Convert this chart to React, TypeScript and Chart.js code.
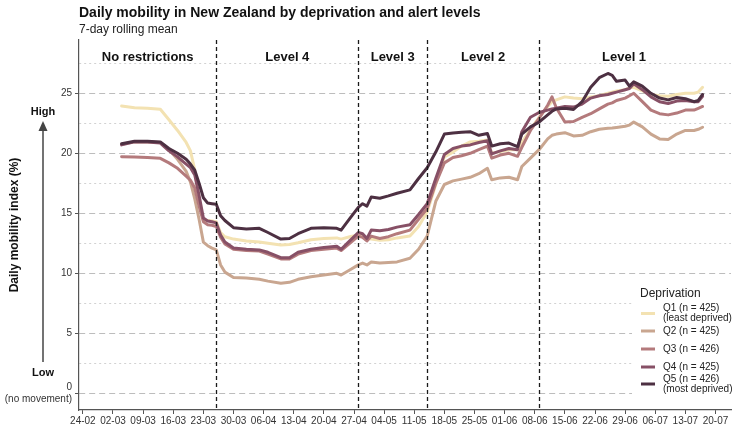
import { useEffect, useRef } from "react";
import { Chart, registerables } from "chart.js";

Chart.register(...registerables);

const FONT = '"Liberation Sans", Arial, Helvetica, sans-serif';

// Days since 24 February 2020
const days = [9, 12, 15, 18, 20, 22, 24, 25, 26, 27, 28, 29, 30, 31, 32, 33, 35, 38, 41, 43, 46, 48, 50, 53, 56, 59, 60, 62, 64, 65, 66, 67, 69, 71, 73, 76, 78, 80, 82, 84, 86, 88, 90, 92, 94, 95, 97, 99, 101, 102, 104, 106, 108, 109, 110, 112, 114, 116, 118, 120, 122, 123, 124, 126, 127, 128, 130, 132, 134, 136, 138, 140, 142, 143, 144];

const q1 = [23.94, 23.8, 23.75, 23.67, 22.8, 21.9, 20.9, 20.2, 18.6, 16.0,
  14.4, 14.4, 14.35, 14.3, 13.4, 13.05, 12.85, 12.7, 12.6, 12.5,
  12.35, 12.4, 12.55, 12.8, 12.9, 12.95, 12.85, 13.05, 13.2, 13.1,
  12.9, 12.85, 12.75, 12.8, 12.95, 13.1, 13.9, 15.1, 17.4, 19.7,
  20.1, 20.6, 20.95, 21.0, 21.1, 20.0, 20.15, 20.3, 20.3, 20.9,
  22.0, 23.0, 23.9, 24.3, 24.45, 24.7, 24.6, 24.55, 24.7, 24.8,
  25.0, 25.1, 25.2, 25.3, 25.45, 25.5, 25.2, 24.9, 24.8, 24.75,
  24.9, 25.0, 25.0, 25.1, 25.5];

const q2 = [20.75, 20.95, 20.95, 20.9, 20.3, 19.5, 18.5, 17.6, 16.2, 14.5,
  12.6, 12.3, 12.1, 11.95, 10.7, 10.1, 9.65, 9.6, 9.5, 9.35,
  9.17, 9.25, 9.5, 9.72, 9.85, 10.0, 9.86, 10.28, 10.7, 10.85,
  10.7, 10.95, 10.85, 10.9, 10.95, 11.25, 12.0, 13.1, 16.0, 17.4,
  17.7, 17.85, 18.0, 18.3, 18.75, 17.8, 17.95, 18.0, 17.8, 18.9,
  19.6, 20.3, 21.2, 21.5, 21.6, 21.72, 21.45, 21.5, 21.8, 22.0,
  22.08, 22.1, 22.15, 22.25, 22.35, 22.6, 22.2, 21.6, 21.2, 21.15,
  21.6, 21.9, 21.9, 22.0, 22.17];

const q3 = [19.72, 19.7, 19.65, 19.58, 19.2, 18.75, 18.1, 17.75, 17.1, 15.6,
  14.3, 14.05, 14.0, 13.9, 13.0, 12.45, 12.0, 11.9, 11.85, 11.6,
  11.2, 11.2, 11.6, 11.9, 12.0, 12.1, 11.9, 12.5, 13.1, 13.0,
  12.7, 13.1, 12.9, 13.05, 13.3, 13.6, 14.5, 15.4, 17.5, 19.2,
  19.65, 19.8, 20.0, 20.3, 20.6, 19.6, 19.85, 20.0, 19.75, 20.5,
  21.9, 22.9, 24.0, 24.7, 23.8, 22.6, 22.65, 23.0, 23.3, 23.7,
  24.1, 24.2, 24.4, 24.6, 24.8, 25.0, 24.3, 23.6, 23.3, 23.2,
  23.35, 23.6, 23.6, 23.75, 23.9];

const q4 = [20.7, 20.95, 20.95, 20.85, 20.2, 19.7, 19.1, 18.8, 18.2, 16.5,
  14.6, 14.35, 14.3, 14.2, 13.2, 12.6, 12.1, 12.0, 11.95, 11.75,
  11.3, 11.3, 11.75, 12.0, 12.15, 12.25, 12.0, 12.7, 13.4, 13.3,
  12.9, 13.6, 13.55, 13.65, 13.85, 14.05, 14.9, 15.8, 17.9, 19.9,
  20.4, 20.6, 20.7, 20.9, 21.05, 19.95, 20.2, 20.4, 20.3, 21.8,
  23.0, 23.4, 23.6, 23.7, 23.75, 23.9, 23.85, 24.1, 24.6, 24.8,
  24.9, 25.0, 25.1, 25.3, 25.4, 25.8, 25.3, 24.7, 24.3, 24.15,
  24.35, 24.4, 24.3, 24.3, 24.75];

const q5 = [20.8, 21.0, 21.0, 20.95, 20.4, 20.0, 19.5, 19.1, 18.6, 17.5,
  16.3, 15.85, 15.8, 15.75, 14.8, 14.4, 13.8, 13.7, 13.75, 13.4,
  12.85, 12.9, 13.3, 13.75, 13.8, 13.75, 13.6, 14.55, 15.5, 15.8,
  15.6, 16.35, 16.25, 16.45, 16.67, 16.95, 17.9, 18.8, 20.1, 21.6,
  21.7, 21.75, 21.8, 21.5, 21.65, 20.6, 20.8, 20.85, 20.55, 21.6,
  22.2, 22.6, 23.2, 23.5, 23.7, 23.75, 23.65, 24.3, 25.5, 26.3,
  26.65, 26.5, 26.0, 26.1, 25.6, 25.95, 25.6, 25.0, 24.6, 24.45,
  24.65, 24.55, 24.3, 24.4, 24.9];

const seriesValues = [q1, q2, q3, q4, q5];
const seriesLabels = ["Q1 (n = 425)", "Q2 (n = 425)", "Q3 (n = 426)", "Q4 (n = 425)", "Q5 (n = 426)"];
const seriesSubLabels = ["(least deprived)", "", "", "", "(most deprived)"];
const seriesColors = ["#F3E2B2", "#C9A690", "#B47A7C", "#875066", "#4D3042"];

const alertStarts = [31, 64, 80, 106];
const alertNames = ["No restrictions", "Level 4", "Level 3", "Level 2", "Level 1"];

const xTickDays = [0, 7, 14, 21, 28, 35, 42, 49, 56, 63, 70, 77, 84, 91, 98, 105, 112, 119, 126, 133, 140, 147];
const yTickValues = [0, 2.5, 5, 7.5, 10, 12.5, 15, 17.5, 20, 22.5, 25, 27.5];

const X_MIN = -0.9;
const X_MAX = 150.6;
const Y_MIN = -1.39;
const Y_MAX = 29.44;

function dayLabel(d: number): string {
  const dt = new Date(2020, 1, 24 + d);
  const dd = String(dt.getDate()).padStart(2, "0");
  const mm = String(dt.getMonth() + 1).padStart(2, "0");
  return `${dd}-${mm}`;
}

const decorations = {
  id: "decorations",
  afterDatasetsDraw(chart: any) {
    const { ctx, chartArea, scales } = chart;
    const xs = scales.x;
    ctx.save();
    ctx.strokeStyle = "#1a1a1a";
    ctx.lineWidth = 1.3;
    ctx.setLineDash([4, 3]);
    alertStarts.forEach((d) => {
      const px = Math.round(xs.getPixelForValue(d)) + 0.5;
      ctx.beginPath();
      ctx.moveTo(px, chartArea.top);
      ctx.lineTo(px, chartArea.bottom);
      ctx.stroke();
    });
    ctx.restore();
  },
  afterDraw(chart: any) {
    const { ctx, chartArea, scales } = chart;
    const xs = scales.x;
    ctx.save();
    // Title and subtitle
    ctx.fillStyle = "#111";
    ctx.textAlign = "left";
    ctx.textBaseline = "alphabetic";
    ctx.font = `bold 14px ${FONT}`;
    ctx.fillText("Daily mobility in New Zealand by deprivation and alert levels", 79, 17);
    ctx.font = `12px ${FONT}`;
    ctx.fillStyle = "#222";
    ctx.fillText("7-day rolling mean", 79, 33);

    // Level labels
    const bounds = [X_MIN, ...alertStarts, days[days.length - 1] + 1.5];
    ctx.font = `bold 13px ${FONT}`;
    ctx.fillStyle = "#111";
    ctx.textAlign = "center";
    ctx.textBaseline = "middle";
    alertNames.forEach((name, i) => {
      const cx = (xs.getPixelForValue(bounds[i]) + xs.getPixelForValue(bounds[i + 1])) / 2;
      ctx.fillText(name, cx, 57);
    });

    // Y axis title
    ctx.save();
    ctx.translate(15, 225);
    ctx.rotate(-Math.PI / 2);
    ctx.font = `bold 12px ${FONT}`;
    ctx.fillStyle = "#111";
    ctx.textAlign = "center";
    ctx.textBaseline = "middle";
    ctx.fillText("Daily mobility index (%)", 0, 0);
    ctx.restore();

    // Arrow
    ctx.strokeStyle = "#444";
    ctx.fillStyle = "#444";
    ctx.lineWidth = 1.5;
    ctx.beginPath();
    ctx.moveTo(43, 362);
    ctx.lineTo(43, 128);
    ctx.stroke();
    ctx.beginPath();
    ctx.moveTo(43, 121);
    ctx.lineTo(38.5, 131);
    ctx.lineTo(47.5, 131);
    ctx.closePath();
    ctx.fill();
    ctx.font = `bold 11px ${FONT}`;
    ctx.fillStyle = "#111";
    ctx.textAlign = "center";
    ctx.textBaseline = "middle";
    ctx.fillText("High", 43, 112);
    ctx.fillText("Low", 43, 373);

    // Legend
    ctx.fillStyle = "#ffffff";
    ctx.fillRect(632, 282, 106, chartArea.bottom - 283);
    ctx.fillStyle = "#222";
    ctx.textAlign = "left";
    ctx.font = `12px ${FONT}`;
    ctx.fillText("Deprivation", 640, 294);
    const centers = [313.5, 331, 349, 367, 384];
    ctx.font = `10px ${FONT}`;
    seriesLabels.forEach((lab, i) => {
      const cy = centers[i];
      ctx.strokeStyle = seriesColors[i];
      ctx.lineWidth = 3;
      ctx.setLineDash([]);
      ctx.beginPath();
      ctx.moveTo(641, cy);
      ctx.lineTo(655, cy);
      ctx.stroke();
      ctx.fillStyle = "#222";
      if (seriesSubLabels[i]) {
        ctx.fillText(lab, 663, cy - 5);
        ctx.fillText(seriesSubLabels[i], 663, cy + 5);
      } else {
        ctx.fillText(lab, 663, cy);
      }
    });
    ctx.restore();
  },
};

export default function App() {
  const canvasRef = useRef<HTMLCanvasElement | null>(null);

  useEffect(() => {
    document.body.style.margin = "0";
    const canvas = canvasRef.current;
    if (!canvas) return;
    const datasets = seriesValues.map((vals, i) => ({
      label: seriesLabels[i],
      data: days.map((d, j) => ({ x: d, y: vals[j] })),
      borderColor: seriesColors[i],
      backgroundColor: seriesColors[i],
      borderWidth: 3,
      pointRadius: 0,
      tension: 0,
      borderJoinStyle: "round" as const,
      borderCapStyle: "round" as const,
      order: 5 - i,
    }));

    const chart = new Chart(canvas, {
      type: "line",
      data: { datasets },
      plugins: [decorations],
      options: {
        animation: false,
        responsive: false,
        events: [],
        layout: { padding: { left: 0, top: 40, right: 7, bottom: 0 } },
        plugins: {
          legend: { display: false },
          tooltip: { enabled: false },
          title: { display: false },
        },
        scales: {
          x: {
            type: "linear",
            min: X_MIN,
            max: X_MAX,
            afterBuildTicks: (scale: any) => {
              scale.ticks = xTickDays.map((v) => ({ value: v }));
            },
            afterFit: (scale: any) => {
              scale.height = 33;
            },
            ticks: {
              autoSkip: false,
              maxRotation: 0,
              padding: 1,
              color: "#333",
              font: { family: FONT, size: 10 },
              callback: (v: any) => dayLabel(Number(v)),
            },
            grid: {
              drawOnChartArea: false,
              drawTicks: true,
              tickLength: 4,
              tickColor: "#555",
              tickWidth: 1,
            },
            border: { display: true, color: "#555", width: 1.2 },
          },
          y: {
            type: "linear",
            min: Y_MIN,
            max: Y_MAX,
            afterBuildTicks: (scale: any) => {
              scale.ticks = yTickValues.map((v) => ({ value: v }));
            },
            afterFit: (scale: any) => {
              scale.width = 79;
            },
            ticks: {
              autoSkip: false,
              padding: 3,
              color: "#333",
              font: { family: FONT, size: 10 },
              callback: (v: any) => {
                const n = Number(v);
                if (n === 0) return ["0", "(no movement)"];
                return n % 5 === 0 ? String(n) : "";
              },
            },
            grid: {
              drawTicks: true,
              tickLength: 4,
              color: (c: any) => (c.tick && c.tick.value % 5 === 0 ? "#bdbdbd" : "#d2d2d2"),
              lineWidth: 1,
              tickColor: (c: any) => (c.tick && c.tick.value % 5 === 0 ? "#555" : "rgba(0,0,0,0)"),
              tickBorderDash: [],
            },
            border: {
              display: true,
              color: "#555",
              width: 1.2,
              dash: (c: any) => (c.tick ? (c.tick.value % 5 === 0 ? [6, 4] : [2, 3]) : []),
            },
          },
        },
      } as any,
    });
    return () => chart.destroy();
  }, []);

  return (
    <div style={{ width: 738, height: 443 }}>
      <canvas ref={canvasRef} width={738} height={443} />
    </div>
  );
}
